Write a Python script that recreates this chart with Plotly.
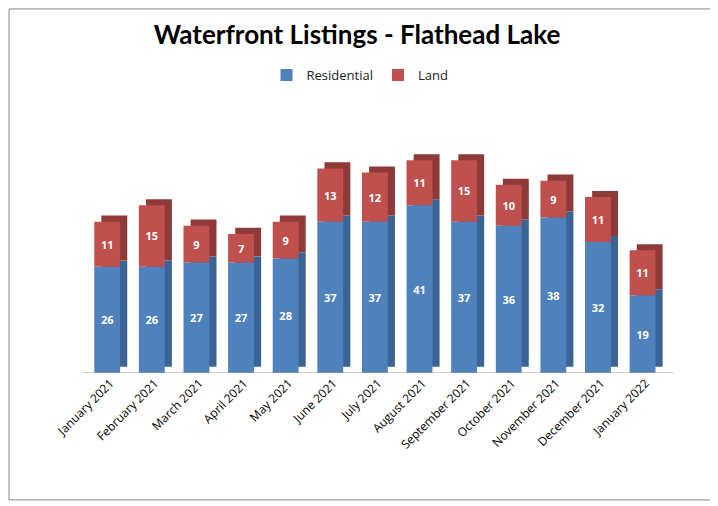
import plotly.graph_objects as go

# DATA
months = ["January 2021", "February 2021", "March 2021", "April 2021", "May 2021",
          "June 2021", "July 2021", "August 2021", "September 2021", "October 2021",
          "November 2021", "December 2021", "January 2022"]
residential = [26, 26, 27, 27, 28, 37, 37, 41, 37, 36, 38, 32, 19]
land = [11, 15, 9, 7, 9, 13, 12, 11, 15, 10, 9, 11, 11]

BLUE, BLUE_DARK = "#4F81BD", "#3A6496"
RED, RED_DARK = "#C0504D", "#8E3A38"
FONT = "Open Sans"

# fake 3D depth: darker copies shifted right/up, drawn behind
lift = 1.5
fig = go.Figure()
fig.add_trace(go.Bar(x=months, y=residential, base=[lift] * len(months),
                     width=0.58, offset=-0.2, marker=dict(color=BLUE_DARK, line_width=0),
                     showlegend=False, hoverinfo="skip"))
fig.add_trace(go.Bar(x=months, y=land, base=[r + lift for r in residential],
                     width=0.58, offset=-0.2, marker=dict(color=RED_DARK, line_width=0),
                     showlegend=False, hoverinfo="skip"))

# front faces
fig.add_trace(go.Bar(x=months, y=residential, base=[0] * len(months), name="Residential",
                     width=0.58, offset=-0.36, marker=dict(color=BLUE, line_width=0),
                     text=residential, texttemplate="<b>%{text}</b>",
                     textposition="inside", insidetextanchor="middle",
                     textfont=dict(color="white", size=11, family=FONT)))
fig.add_trace(go.Bar(x=months, y=land, base=residential, name="Land",
                     width=0.58, offset=-0.36, marker=dict(color=RED, line_width=0),
                     text=land, texttemplate="<b>%{text}</b>",
                     textposition="inside", insidetextanchor="middle",
                     textfont=dict(color="white", size=11, family=FONT)))

fig.update_layout(
    barmode="overlay",
    width=718, height=506,
    paper_bgcolor="white", plot_bgcolor="white",
    margin=dict(l=80, r=58, t=140, b=141, autoexpand=False),
    title=dict(text="<b>Waterfront Listings - Flathead Lake</b>", x=0.486, xanchor="center",
               y=0.947, yanchor="middle", font=dict(family="Lato", size=26, color="black")),
    legend=dict(orientation="h", x=0.469, xanchor="center", y=1.324, yanchor="middle",
                font=dict(family=FONT, size=13, color="#222"), traceorder="normal",
                itemwidth=30),
    font=dict(family=FONT),
    xaxis=dict(tickangle=-45, tickfont=dict(size=12, color="black"), showline=False,
               showgrid=False, ticks="", automargin=False),
    yaxis=dict(range=[0, 55], visible=False, automargin=False),
    shapes=[
        dict(type="line", xref="paper", yref="y", x0=-0.01, x1=1.01, y0=0, y1=0,
             line=dict(color="#999", width=1)),
        dict(type="rect", xref="paper", yref="paper", x0=-0.1362, x1=1.0793, y0=-0.564, y1=1.618,
             line=dict(color="#888", width=1)),
    ],
)

fig.write_html("out.html")
